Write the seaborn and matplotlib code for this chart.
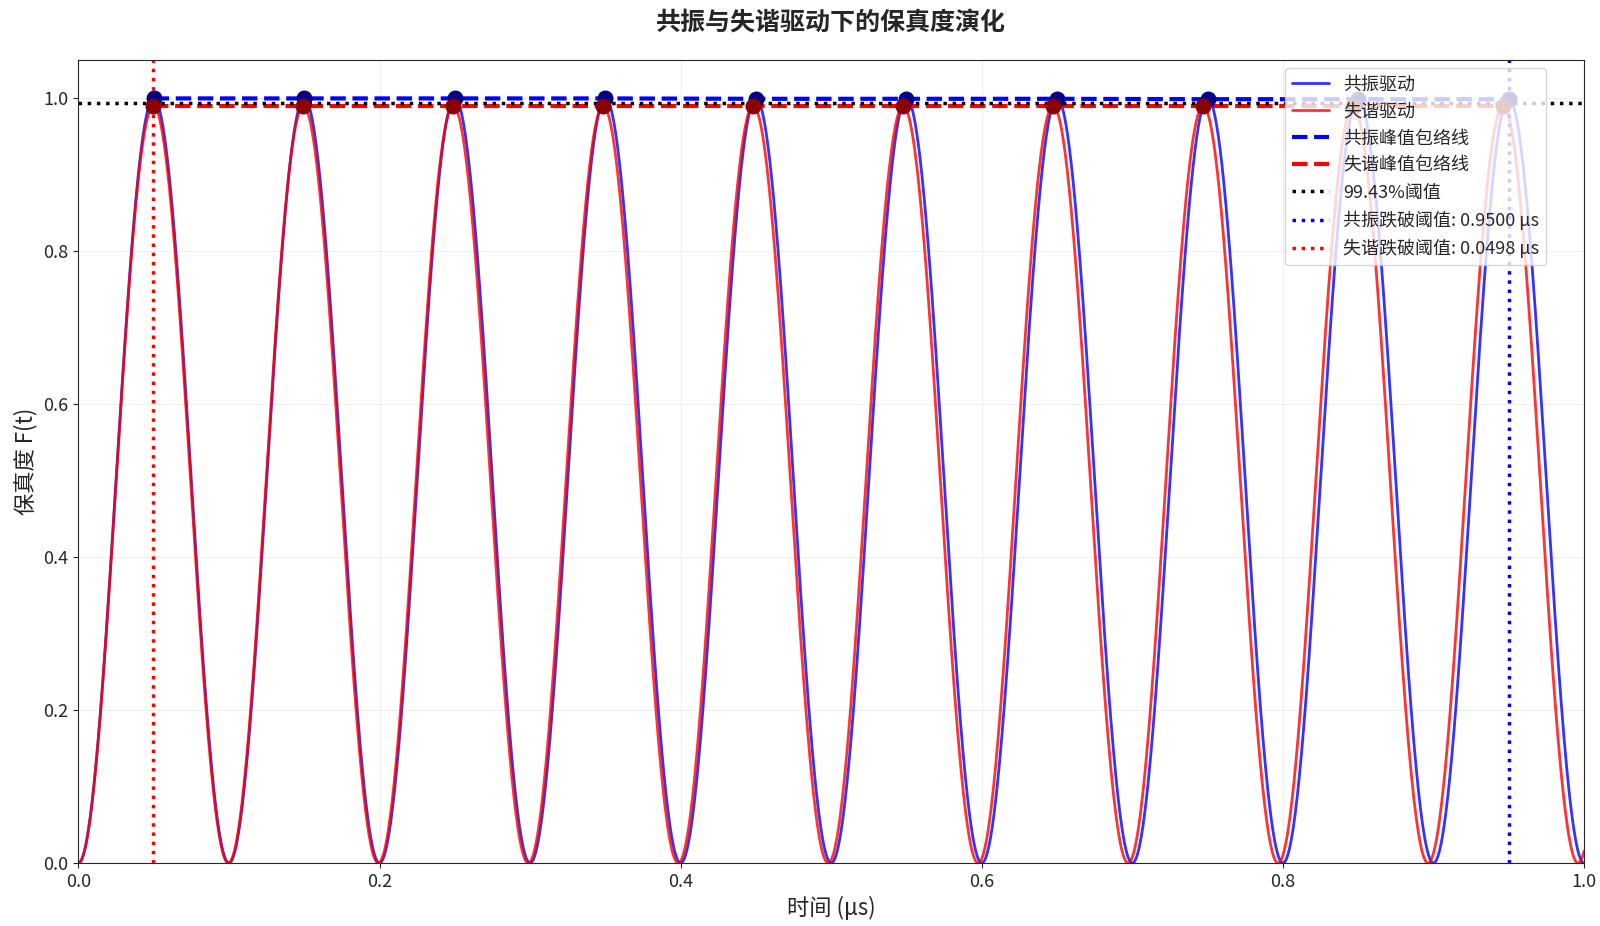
import numpy as np
import matplotlib
matplotlib.use("Agg")
import matplotlib.pyplot as plt
import seaborn as sns

sns.set_style("ticks")
plt.rcParams['font.family'] = ['Noto Sans CJK SC', 'DejaVu Sans']
plt.rcParams['axes.unicode_minus'] = False

# model parameters (times in μs)
res_period = 0.1          # resonant Rabi period
det_period = 0.0996       # detuned (effective) Rabi period
det_amp = 0.990           # detuned max fidelity
threshold = 0.9943

# peak positions / heights
res_peak_t = [0.05, 0.15, 0.25, 0.35, 0.45, 0.55, 0.65, 0.75, 0.85, 0.95]
res_peak_f = [1.000, 1.000, 1.000, 1.000, 0.9995, 0.9995, 0.9995, 0.999, 0.999, 0.999]
det_peak_t = [0.0498, 0.1494, 0.2490, 0.3486, 0.4482, 0.5478, 0.6474, 0.7470, 0.8466, 0.9462]
det_peak_f = [0.990, 0.990, 0.990, 0.990, 0.990, 0.990, 0.990, 0.990, 0.990, 0.990]

res_cross = 0.9500
det_cross = 0.0498

t = np.linspace(0, 1, 4000)
f_res = np.sin(np.pi * t / res_period) ** 2
f_det = det_amp * np.sin(np.pi * t / det_period) ** 2

fig, ax = plt.subplots(figsize=(16, 9.26), dpi=100)

sns.lineplot(x=t, y=f_res, ax=ax, color="blue", alpha=0.8, lw=2, label="共振驱动")
sns.lineplot(x=t, y=f_det, ax=ax, color="red", alpha=0.8, lw=2, label="失谐驱动")

ax.plot(res_peak_t, res_peak_f, "--", color="blue", lw=3, label="共振峰值包络线")
ax.plot(det_peak_t, det_peak_f, "--", color="red", lw=3, label="失谐峰值包络线")
ax.scatter(res_peak_t, res_peak_f, color="darkblue", s=110, zorder=5)
ax.scatter(det_peak_t, det_peak_f, color="darkred", s=110, zorder=5)

ax.axhline(threshold, color="black", ls=":", lw=2.5, label=f"{threshold*100:.2f}%阈值")
ax.axvline(res_cross, color="blue", ls=":", lw=2.5, label=f"共振跌破阈值: {res_cross:.4f} μs")
ax.axvline(det_cross, color="red", ls=":", lw=2.5, label=f"失谐跌破阈值: {det_cross:.4f} μs")

ax.set_xlim(0, 1)
ax.set_ylim(0, 1.05)
ax.set_xlabel("时间 (μs)", fontsize=16)
ax.set_ylabel("保真度 F(t)", fontsize=16)
ax.set_title("共振与失谐驱动下的保真度演化", fontsize=18, fontweight="bold", pad=22)
ax.tick_params(labelsize=13)
ax.grid(alpha=0.3)
ax.legend(loc="upper right", bbox_to_anchor=(0.975, 0.99), borderaxespad=0,
          fontsize=13, labelspacing=0.5)

fig.subplots_adjust(left=0.049, right=0.99, top=0.935, bottom=0.068)
fig.savefig("out.png", dpi=100)
